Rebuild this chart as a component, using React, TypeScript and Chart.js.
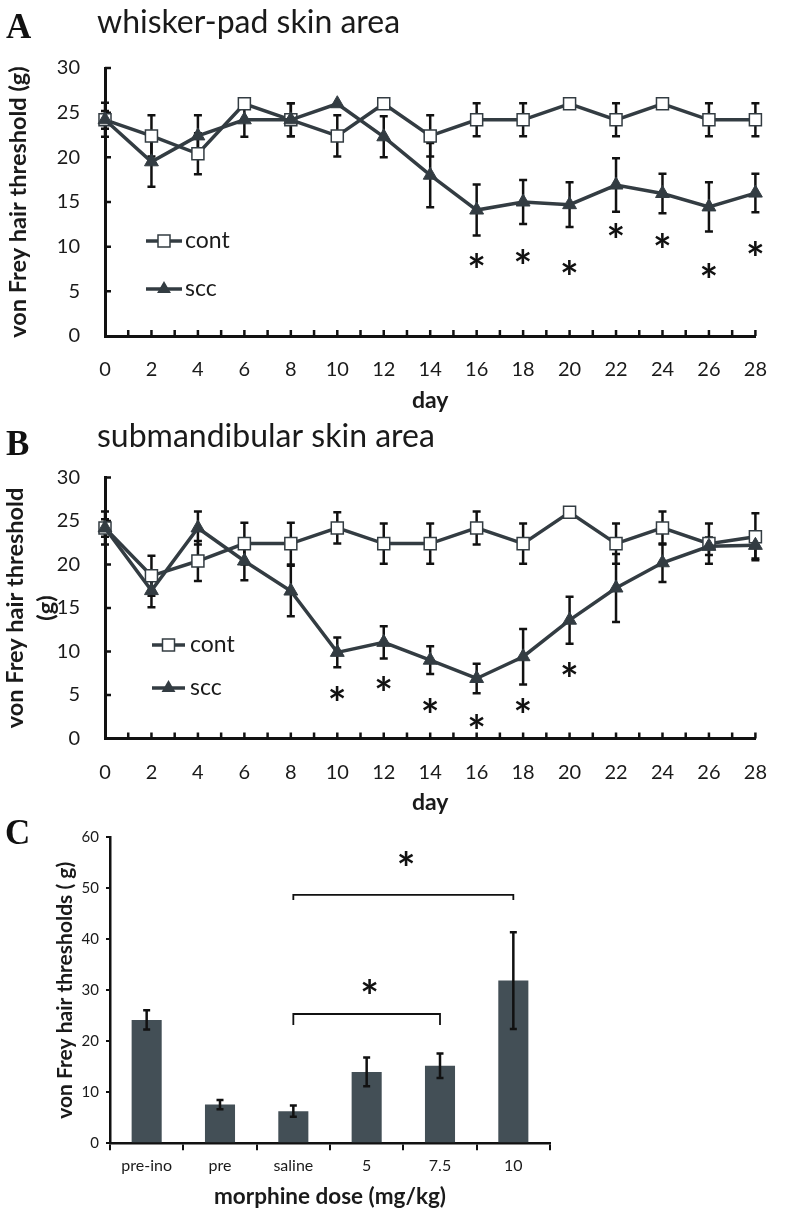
import React, { useEffect, useRef } from 'react';
import { Chart, registerables } from 'chart.js';

Chart.register(...registerables);

const FONT = 'Lato, "Open Sans", sans-serif';
const SERIF = '"Liberation Serif", "DejaVu Serif", serif';
const LINE = '#333c42';
const INK = '#111111';
const TEXT = '#1a1a1a';
const BAR = '#434f56';

// ---------- data ----------
const days = [0, 2, 4, 6, 8, 10, 12, 14, 16, 18, 20, 22, 24, 26, 28];

// Panel A: whisker-pad skin area
const aContMean = [24.2, 22.4, 20.4, 26.0, 24.2, 22.4, 26.0, 22.4, 24.2, 24.2, 26.0, 24.2, 26.0, 24.2, 24.2];
const aContErr = [1.0, 2.3, 2.3, 0, 1.85, 2.3, 0, 2.3, 1.85, 1.85, 0, 1.85, 0, 1.85, 1.85];
const aSccMean = [24.2, 19.5, 22.4, 24.2, 24.2, 26.0, 22.3, 18.0, 14.1, 15.0, 14.7, 16.9, 15.95, 14.45, 16.0];
const aSccErr = [1.9, 2.8, 2.3, 1.9, 1.85, 0, 2.3, 3.6, 2.85, 2.45, 2.5, 3.0, 2.2, 2.75, 2.15];
const aStarDays = [16, 18, 20, 22, 24, 26, 28];
const aStarY = [8.5, 8.85, 7.7, 11.8, 10.7, 7.35, 9.8];

// Panel B: submandibular skin area
const bContMean = [24.2, 18.7, 20.4, 22.4, 22.4, 24.2, 22.4, 22.4, 24.2, 22.4, 26.0, 22.4, 24.2, 22.4, 23.2];
const bContErr = [1.9, 2.3, 2.3, 2.4, 2.4, 1.8, 2.3, 2.3, 1.9, 2.3, 0, 2.3, 1.9, 2.3, 2.7];
const bSccMean = [24.2, 17.0, 24.2, 20.4, 16.95, 9.9, 11.05, 9.0, 6.9, 9.4, 13.6, 17.3, 20.2, 22.1, 22.2];
const bSccErr = [1.0, 1.9, 1.9, 2.2, 2.9, 1.7, 1.85, 1.6, 1.7, 3.2, 2.7, 3.9, 2.2, 1.0, 1.5];
const bStarDays = [10, 12, 14, 16, 18, 20];
const bStarY = [5.2, 6.3, 3.85, 1.93, 3.85, 7.9];

// Panel C: morphine dose
const doseLabels = ['pre-ino', 'pre', 'saline', '5', '7.5', '10'];
const doseMean = [24.2, 7.6, 6.3, 14.0, 15.2, 31.9];
const doseErr = [1.9, 0.9, 1.1, 2.8, 2.4, 9.5];
const bracketFrom = ['saline', 'saline'];
const bracketTo = ['10', '7.5'];
const bracketY = [48.7, 25.35];
const bracketDrop = [1.0, 2.15];
const bracketStarY = [55.9, 30.7];

const yTicksLine = [0, 5, 10, 15, 20, 25, 30];

// ---------- helpers ----------
function drawErr(ctx: CanvasRenderingContext2D, x: number, y1: number, y2: number, cap: number) {
  ctx.beginPath();
  ctx.moveTo(x, y1);
  ctx.lineTo(x, y2);
  ctx.moveTo(x - cap / 2, y1);
  ctx.lineTo(x + cap / 2, y1);
  ctx.moveTo(x - cap / 2, y2);
  ctx.lineTo(x + cap / 2, y2);
  ctx.stroke();
}

function drawStar(ctx: CanvasRenderingContext2D, x: number, y: number, size: number) {
  ctx.save();
  ctx.font = `bold ${size}px ${FONT}`;
  ctx.textAlign = 'center';
  ctx.textBaseline = 'alphabetic';
  ctx.fillStyle = INK;
  const m = ctx.measureText('*');
  const asc = m.actualBoundingBoxAscent;
  const desc = m.actualBoundingBoxDescent;
  const dx = (m.actualBoundingBoxRight - m.actualBoundingBoxLeft) / 2;
  ctx.fillText('*', x - dx, y + (asc - desc) / 2);
  ctx.restore();
}

function drawVText(ctx: CanvasRenderingContext2D, text: string, x: number, y: number, font: string) {
  ctx.save();
  ctx.translate(x, y);
  ctx.rotate(-Math.PI / 2);
  ctx.font = font;
  ctx.fillStyle = TEXT;
  ctx.textAlign = 'center';
  ctx.textBaseline = 'middle';
  ctx.fillText(text, 0, 0);
  ctx.restore();
}

function drawSquare(ctx: CanvasRenderingContext2D, x: number, y: number, s: number) {
  ctx.save();
  ctx.fillStyle = '#ffffff';
  ctx.strokeStyle = LINE;
  ctx.lineWidth = 1.5;
  ctx.beginPath();
  ctx.rect(x - s / 2, y - s / 2, s, s);
  ctx.fill();
  ctx.stroke();
  ctx.restore();
}

function drawTri(ctx: CanvasRenderingContext2D, x: number, y: number, r: number) {
  ctx.save();
  ctx.fillStyle = LINE;
  ctx.beginPath();
  ctx.moveTo(x, y - r);
  ctx.lineTo(x + r * 0.866, y + r * 0.5);
  ctx.lineTo(x - r * 0.866, y + r * 0.5);
  ctx.closePath();
  ctx.fill();
  ctx.restore();
}

type LinePanel = {
  top: number;
  height: number;
  area: { left: number; right: number; top: number; bottom: number };
  letter: string;
  letterX: number;
  letterBase: number;
  title: string;
  titleX: number;
  titleBase: number;
  yTitle: string[];
  yTitleX: number[];
  yTitleSize: number;
  xTitle: string;
  xTitleY: number;
  legendY: number[];
  legendX: number[];
  cont: { mean: number[]; err: number[] };
  scc: { mean: number[]; err: number[] };
  starDays: number[];
  starY: number[];
};

const panelA: LinePanel = {
  top: 0,
  height: 415,
  area: { left: 105, right: 773, top: 68, bottom: 336 },
  letter: 'A',
  letterX: 6,
  letterBase: 38,
  title: 'whisker-pad skin area',
  titleX: 97,
  titleBase: 33,
  yTitle: ['von Frey hair threshold (g)'],
  yTitleX: [18],
  yTitleSize: 23.5,
  xTitle: 'day',
  xTitleY: 401,
  legendY: [241, 289],
  legendX: [146, 182, 185],
  cont: { mean: aContMean, err: aContErr },
  scc: { mean: aSccMean, err: aSccErr },
  starDays: aStarDays,
  starY: aStarY,
};

const panelB: LinePanel = {
  top: 415,
  height: 400,
  area: { left: 105, right: 773, top: 477.5, bottom: 738.5 },
  letter: 'B',
  letterX: 6,
  letterBase: 455,
  title: 'submandibular skin area',
  titleX: 97,
  titleBase: 447,
  yTitle: ['von Frey hair threshold', '(g)'],
  yTitleX: [15, 46],
  yTitleSize: 23.5,
  xTitle: 'day',
  xTitleY: 803,
  legendY: [645, 688],
  legendX: [152, 185, 190],
  cont: { mean: bContMean, err: bContErr },
  scc: { mean: bSccMean, err: bSccErr },
  starDays: bStarDays,
  starY: bStarY,
};

function lineConfig(p: LinePanel): any {
  const W = 789;
  const a = p.area;
  const off = p.top;
  const plugin = {
    id: 'decorLine',
    beforeDatasetsDraw(chart: any) {
      const ctx: CanvasRenderingContext2D = chart.ctx;
      const xs = chart.scales.x;
      const ys = chart.scales.y;
      const ca = chart.chartArea;
      ctx.save();
      ctx.strokeStyle = INK;
      ctx.lineWidth = 2.5;
      // inward ticks
      ctx.beginPath();
      for (const v of yTicksLine) {
        if (v === 0) continue;
        const py = ys.getPixelForValue(v);
        ctx.moveTo(ca.left, py);
        ctx.lineTo(ca.left + 6, py);
      }
      for (let d = Math.ceil(xs.min) + 1; d <= xs.max; d++) {
        const px = xs.getPixelForValue(d);
        ctx.moveTo(px, ca.bottom);
        ctx.lineTo(px, ca.bottom - 6);
      }
      ctx.stroke();
      // error bars
      for (const s of [p.cont, p.scc]) {
        s.mean.forEach((m, i) => {
          const e = s.err[i];
          if (!e) return;
          drawErr(ctx, xs.getPixelForValue(days[i]), ys.getPixelForValue(m + e), ys.getPixelForValue(m - e), 8);
        });
      }
      ctx.restore();
    },
    afterDatasetsDraw(chart: any) {
      const ctx: CanvasRenderingContext2D = chart.ctx;
      const xs = chart.scales.x;
      const ys = chart.scales.y;
      p.starDays.forEach((d, i) => {
        drawStar(ctx, xs.getPixelForValue(d), ys.getPixelForValue(p.starY[i]), 44);
      });
    },
    afterDraw(chart: any) {
      const ctx: CanvasRenderingContext2D = chart.ctx;
      const ca = chart.chartArea;
      ctx.save();
      // panel letter
      ctx.fillStyle = INK;
      ctx.font = `bold 35px ${SERIF}`;
      ctx.textAlign = 'left';
      ctx.textBaseline = 'alphabetic';
      ctx.fillText(p.letter, p.letterX, p.letterBase - off);
      // title
      ctx.fillStyle = TEXT;
      ctx.font = `32px ${FONT}`;
      ctx.fillText(p.title, p.titleX, p.titleBase - off);
      // x title
      ctx.font = `bold 23px ${FONT}`;
      ctx.textAlign = 'center';
      ctx.textBaseline = 'middle';
      ctx.fillText(p.xTitle, (ca.left + ca.right) / 2, p.xTitleY - off);
      ctx.restore();
      // y title
      const cy = (ca.top + ca.bottom) / 2;
      p.yTitle.forEach((t, i) => drawVText(ctx, t, p.yTitleX[i], cy, `bold ${p.yTitleSize}px ${FONT}`));
      // legend
      const names = chart.data.datasets.map((d: any) => d.label);
      [0, 1].forEach((k) => {
        const y = p.legendY[k] - off;
        const x1 = p.legendX[0];
        const x2 = p.legendX[1];
        ctx.save();
        ctx.strokeStyle = LINE;
        ctx.lineWidth = 3.5;
        ctx.beginPath();
        ctx.moveTo(x1, y);
        ctx.lineTo(x2, y);
        ctx.stroke();
        ctx.restore();
        if (k === 0) drawSquare(ctx, (x1 + x2) / 2, y, 12);
        else drawTri(ctx, (x1 + x2) / 2, y, 8);
        ctx.save();
        ctx.fillStyle = TEXT;
        ctx.font = `23px ${FONT}`;
        ctx.textAlign = 'left';
        ctx.textBaseline = 'middle';
        ctx.fillText(names[k], p.legendX[2], y);
        ctx.restore();
      });
    },
  };
  return {
    type: 'line',
    data: {
      datasets: [
        {
          label: 'cont',
          data: days.map((d, i) => ({ x: d, y: p.cont.mean[i] })),
          borderColor: LINE,
          borderWidth: 3.5,
          pointStyle: 'rect',
          pointRadius: 8.5,
          pointBackgroundColor: '#ffffff',
          pointBorderColor: LINE,
          pointBorderWidth: 1.5,
          order: 1,
          clip: false,
          tension: 0,
        },
        {
          label: 'scc',
          data: days.map((d, i) => ({ x: d, y: p.scc.mean[i] })),
          borderColor: LINE,
          borderWidth: 3.5,
          pointStyle: 'triangle',
          pointRadius: 8,
          pointBackgroundColor: LINE,
          pointBorderColor: LINE,
          pointBorderWidth: 1,
          order: 0,
          clip: false,
          tension: 0,
        },
      ],
    },
    options: {
      animation: false,
      responsive: false,
      devicePixelRatio: 1,
      events: [],
      layout: { padding: { left: 0, right: W - a.right, top: a.top - off, bottom: 0 } },
      plugins: { legend: { display: false }, tooltip: { enabled: false }, title: { display: false } },
      scales: {
        x: {
          type: 'linear',
          min: 0,
          max: 28,
          ticks: { stepSize: 2, autoSkip: false, maxRotation: 0, padding: 22, color: TEXT, font: { family: FONT, size: 20 } },
          grid: { display: false, drawTicks: false },
          border: { display: true, width: 3, color: INK },
          afterFit: (s: any) => {
            s.height = p.height - (a.bottom - off);
          },
        },
        y: {
          min: 0,
          max: 30,
          ticks: { stepSize: 5, padding: 25, color: TEXT, font: { family: FONT, size: 20 } },
          grid: { display: false, drawTicks: false },
          border: { display: true, width: 3, color: INK },
          afterFit: (s: any) => {
            s.width = a.left;
          },
        },
      },
    },
    plugins: [plugin],
  };
}

function barConfig(): any {
  const top = 815;
  const height = 396;
  const area = { left: 110, right: 550, top: 837.3, bottom: 1143.3 };
  const plugin = {
    id: 'decorBar',
    afterDatasetsDraw(chart: any) {
      const ctx: CanvasRenderingContext2D = chart.ctx;
      const xs = chart.scales.x;
      const ys = chart.scales.y;
      ctx.save();
      ctx.strokeStyle = INK;
      ctx.lineWidth = 2.5;
      doseMean.forEach((m, i) => {
        drawErr(ctx, xs.getPixelForValue(i), ys.getPixelForValue(m + doseErr[i]), ys.getPixelForValue(m - doseErr[i]), 7);
      });
      ctx.restore();
      // brackets
      ctx.save();
      ctx.strokeStyle = INK;
      ctx.lineWidth = 1.8;
      bracketFrom.forEach((f, i) => {
        const x1 = xs.getPixelForValue(doseLabels.indexOf(f));
        const x2 = xs.getPixelForValue(doseLabels.indexOf(bracketTo[i]));
        const y = ys.getPixelForValue(bracketY[i]);
        const yd = ys.getPixelForValue(bracketY[i] - bracketDrop[i]);
        ctx.beginPath();
        ctx.moveTo(x1, yd);
        ctx.lineTo(x1, y);
        ctx.lineTo(x2, y);
        ctx.lineTo(x2, yd);
        ctx.stroke();
        drawStar(ctx, (x1 + x2) / 2 + 3, ys.getPixelForValue(bracketStarY[i]), 44);
      });
      ctx.restore();
    },
    afterDraw(chart: any) {
      const ctx: CanvasRenderingContext2D = chart.ctx;
      const ca = chart.chartArea;
      ctx.save();
      ctx.fillStyle = INK;
      ctx.font = `bold 35px ${SERIF}`;
      ctx.textAlign = 'left';
      ctx.textBaseline = 'alphabetic';
      ctx.fillText('C', 5, 844 - top);
      ctx.fillStyle = TEXT;
      ctx.font = `bold 22.5px ${FONT}`;
      ctx.textAlign = 'center';
      ctx.textBaseline = 'middle';
      ctx.fillText('morphine dose (mg/kg)', (ca.left + ca.right) / 2, 1197 - top);
      ctx.restore();
      drawVText(ctx, 'von Frey hair thresholds ( g)', 65, (ca.top + ca.bottom) / 2, `bold 21px ${FONT}`);
    },
  };
  return {
    type: 'bar',
    data: {
      labels: doseLabels,
      datasets: [
        {
          label: 'threshold',
          data: doseMean,
          backgroundColor: BAR,
          barPercentage: 0.41,
          categoryPercentage: 1,
        },
      ],
    },
    options: {
      animation: false,
      responsive: false,
      devicePixelRatio: 1,
      events: [],
      layout: { padding: { left: 0, right: 789 - area.right, top: area.top - top, bottom: 0 } },
      plugins: { legend: { display: false }, tooltip: { enabled: false } },
      scales: {
        x: {
          ticks: { padding: 6, color: TEXT, font: { family: FONT, size: 16 } },
          grid: { display: true, drawOnChartArea: false, drawTicks: true, tickLength: 7, lineWidth: 2, color: INK, offset: true },
          border: { display: true, width: 2.5, color: INK },
          afterFit: (s: any) => {
            s.height = height - (area.bottom - top);
          },
        },
        y: {
          min: 0,
          max: 60,
          ticks: { stepSize: 10, padding: 7, color: TEXT, font: { family: FONT, size: 15 } },
          grid: { display: true, drawOnChartArea: false, drawTicks: true, tickLength: 4, lineWidth: 2, color: INK },
          border: { display: true, width: 2.5, color: INK },
          afterFit: (s: any) => {
            s.width = area.left;
          },
        },
      },
    },
    plugins: [plugin],
  };
}

function ChartCanvas({ top, height, make }: { top: number; height: number; make: () => any }) {
  const ref = useRef<HTMLCanvasElement | null>(null);
  useEffect(() => {
    if (!ref.current) return;
    const chart = new Chart(ref.current, make());
    return () => chart.destroy();
  }, []);
  return (
    <canvas
      ref={ref}
      width={789}
      height={height}
      style={{ position: 'absolute', left: 0, top, width: 789, height, display: 'block' }}
    />
  );
}

export default function App() {
  return (
    <div style={{ position: 'absolute', left: 0, top: 0, width: 789, height: 1211, background: '#ffffff', overflow: 'hidden' }}>
      <ChartCanvas top={panelA.top} height={panelA.height} make={() => lineConfig(panelA)} />
      <ChartCanvas top={panelB.top} height={panelB.height} make={() => lineConfig(panelB)} />
      <ChartCanvas top={815} height={396} make={barConfig} />
    </div>
  );
}
